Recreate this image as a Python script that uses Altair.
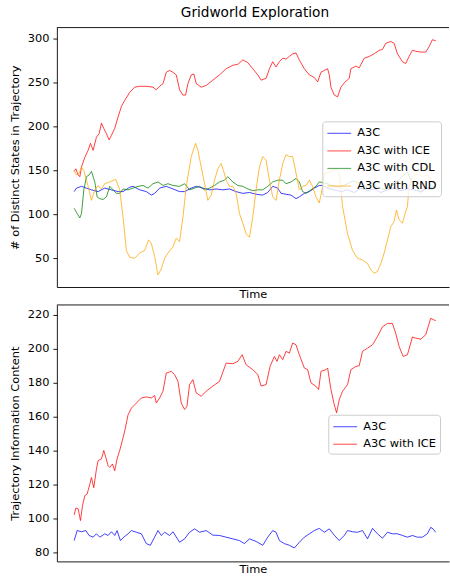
import altair as alt
import pandas as pd

# ---------------- data (top panel) ----------------
a3c_top_t = [0, 7, 22, 37, 52, 72, 92, 112, 132, 147, 167, 177, 197, 217, 232, 242, 257, 277, 297, 317, 332, 352, 367, 387, 407, 427, 447, 467, 487, 507, 527, 547, 567, 582, 597, 612, 622, 637, 652, 667, 677, 692, 707, 722, 737, 747, 762, 782, 802, 822, 842, 862, 882, 902, 922, 942, 962, 982, 1002, 1022, 1042, 1062, 1087]
a3c_top_v = [126, 130, 132, 130, 128, 126, 130, 128, 126, 126, 131, 132, 128, 126, 122, 124, 130, 132, 129, 126, 126, 130, 132, 130, 128, 129, 128, 129, 126, 124, 125, 123, 122, 125, 132, 130, 124, 123, 122, 118, 120, 124, 126, 130, 133, 133, 130, 128, 126, 128, 125, 130, 127, 129, 125, 128, 130, 127, 129, 128, 126, 130, 132]

ice_top_t = [0, 5, 12, 17, 22, 32, 42, 49, 57, 67, 75, 82, 89, 97, 105, 112, 122, 132, 142, 152, 167, 182, 197, 217, 237, 247, 257, 267, 277, 287, 297, 307, 317, 327, 335, 342, 352, 360, 367, 382, 397, 417, 437, 457, 477, 492, 507, 522, 537, 552, 562, 577, 587, 597, 607, 617, 627, 637, 647, 657, 667, 677, 692, 707, 722, 732, 742, 752, 762, 767, 772, 782, 792, 802, 812, 827, 832, 847, 857, 872, 887, 902, 917, 927, 937, 952, 962, 972, 987, 997, 1007, 1017, 1027, 1042, 1057, 1067, 1077, 1087]
ice_top_v = [149, 152, 145, 143, 154, 165, 173, 181, 173, 188, 192, 204, 198, 192, 185, 190, 198, 211, 223, 230, 239, 245, 246, 246, 245, 242, 246, 249, 262, 264, 262, 259, 242, 236, 236, 249, 259, 260, 249, 245, 247, 253, 259, 266, 270, 271, 276, 273, 266, 259, 253, 255, 266, 274, 268, 274, 278, 277, 280, 283, 284, 276, 266, 259, 256, 251, 262, 264, 266, 259, 245, 236, 234, 245, 250, 255, 266, 269, 267, 278, 280, 283, 287, 288, 295, 297, 295, 283, 274, 272, 280, 287, 286, 285, 285, 291, 299, 298]

cdl_top_t = [0, 9, 17, 22, 29, 37, 45, 52, 62, 69, 77, 87, 97, 107, 117, 127, 137, 147, 162, 177, 192, 207, 222, 237, 252, 267, 282, 297, 317, 332, 347, 362, 377, 392, 407, 422, 437, 452, 462, 477, 492, 507, 522, 537, 552, 567, 582, 597, 612, 627, 637, 652, 667, 677, 687, 697, 712, 727, 737, 762, 777, 797, 817, 837, 857, 877, 897, 917, 937, 957, 977, 992, 1002, 1012, 1027, 1042, 1057, 1072, 1087]
cdl_top_v = [107, 101, 96, 101, 128, 143, 145, 149, 137, 120, 118, 117, 120, 132, 128, 124, 124, 129, 128, 130, 132, 133, 130, 135, 137, 133, 135, 133, 132, 135, 128, 130, 132, 128, 130, 133, 137, 139, 143, 137, 133, 132, 129, 127, 128, 128, 132, 137, 139, 139, 135, 137, 141, 137, 126, 124, 128, 132, 137, 135, 133, 131, 134, 138, 136, 132, 135, 130, 128, 133, 140, 145, 148, 140, 132, 125, 130, 128, 130]

rnd_top_t = [0, 7, 15, 22, 29, 42, 52, 62, 72, 82, 92, 107, 125, 137, 147, 157, 167, 182, 197, 212, 224, 232, 242, 252, 262, 272, 282, 297, 307, 317, 327, 337, 352, 365, 372, 382, 392, 402, 412, 422, 432, 442, 449, 457, 467, 477, 487, 497, 507, 517, 527, 537, 547, 557, 567, 577, 587, 597, 607, 617, 627, 637, 647, 657, 667, 677, 687, 697, 707, 717, 727, 737, 747, 752, 762, 777, 787, 797, 807, 822, 837, 852, 867, 882, 892, 902, 912, 922, 932, 942, 952, 962, 969, 977, 987, 995, 1002, 1007, 1017, 1032, 1047, 1062, 1077, 1087]
rnd_top_v = [150, 145, 147, 154, 150, 132, 116, 128, 133, 129, 135, 137, 140, 128, 97, 59, 51, 50, 56, 59, 71, 67, 52, 31, 38, 50, 56, 63, 73, 69, 97, 132, 166, 181, 173, 154, 135, 116, 122, 139, 152, 158, 150, 139, 132, 132, 124, 101, 90, 78, 74, 97, 128, 154, 166, 162, 139, 120, 116, 139, 158, 168, 166, 166, 147, 128, 132, 133, 139, 132, 120, 113, 132, 147, 147, 150, 152, 147, 109, 78, 59, 50, 48, 44, 37, 33, 35, 44, 56, 71, 86, 92, 105, 94, 90, 101, 109, 132, 143, 147, 143, 145, 139, 137]

# ---------------- data (bottom panel) ----------------
a3c_bot_t = [0, 9, 22, 35, 45, 57, 67, 77, 92, 102, 112, 122, 129, 139, 149, 162, 172, 187, 202, 217, 229, 239, 252, 262, 272, 287, 297, 317, 332, 347, 362, 377, 397, 417, 437, 457, 477, 497, 512, 527, 547, 567, 582, 597, 607, 617, 632, 647, 662, 677, 692, 707, 722, 737, 752, 767, 782, 797, 812, 822, 837, 852, 867, 882, 897, 912, 927, 942, 957, 972, 987, 1002, 1017, 1032, 1047, 1062, 1072, 1079, 1087]
a3c_bot_v = [86.8, 92.7, 92, 92.7, 89.8, 88.8, 90.8, 88.8, 90.8, 89.8, 92, 89.8, 92.7, 86.8, 88.8, 90.8, 92.7, 91.7, 90.8, 85, 84, 87.8, 92.7, 89.8, 91.7, 89.8, 92, 85.8, 87.8, 91.7, 93.7, 91.7, 92.7, 90, 89.8, 88.8, 87.8, 86.8, 85, 87.8, 86.3, 84, 88.8, 92.7, 91.7, 86.8, 85, 84, 82.4, 85.8, 88.8, 90.8, 92.7, 94, 91.7, 93.7, 90, 86.8, 89.8, 92.7, 92, 91.7, 92.7, 87.8, 94, 90.8, 88.2, 91.7, 90.8, 90.8, 89.8, 88.8, 89.8, 88.8, 88.8, 90.8, 94.6, 93.7, 91.7]

ice_bot_t = [0, 5, 12, 19, 25, 32, 39, 47, 52, 59, 67, 72, 82, 89, 95, 102, 107, 115, 122, 129, 137, 145, 152, 162, 172, 187, 202, 217, 232, 242, 247, 257, 267, 277, 292, 302, 312, 322, 332, 339, 347, 357, 367, 382, 397, 417, 437, 457, 477, 492, 505, 517, 537, 552, 562, 577, 589, 602, 610, 617, 627, 637, 647, 657, 667, 677, 692, 702, 712, 727, 735, 742, 757, 762, 772, 782, 789, 797, 807, 822, 832, 847, 857, 867, 882, 897, 912, 927, 942, 957, 967, 977, 989, 1002, 1017, 1027, 1042, 1057, 1072, 1082, 1087]
ice_bot_v = [102, 106, 105.5, 98.6, 107.4, 113.3, 114.3, 120, 124, 118, 129, 134, 135, 140, 136, 131, 130, 132, 128, 135, 140, 146, 151.5, 161, 165, 168, 171, 171.6, 171, 172.4, 168, 171, 175, 185.7, 186.7, 184.8, 180.8, 168, 164.2, 166, 178.9, 181.8, 174, 172, 175, 178, 180.8, 191.6, 191.2, 192.6, 196.5, 190.6, 187.7, 184.8, 178, 178.9, 189.6, 195.5, 192.6, 196.5, 193.6, 198.5, 197.5, 203.4, 202.4, 196.5, 188.7, 187.7, 179.9, 177.9, 176, 186.7, 187.7, 188.7, 176, 167, 162.2, 170, 175, 178.9, 187.7, 189.6, 190, 198.5, 200.4, 202.4, 207.3, 213, 215, 215, 209, 201.4, 195.5, 196.5, 207, 206.3, 205.7, 208.3, 218, 217, 216.7]

names_top = ["A3C", "A3C with ICE", "A3C with CDL", "A3C with RND"]
colors_top = ["blue", "red", "green", "orange"]
names_bot = ["A3C", "A3C with ICE"]
colors_bot = ["blue", "red"]

y_ticks_top = [50, 100, 150, 200, 250, 300]
y_ticks_bot = [80, 100, 120, 140, 160, 180, 200, 220]


def long_df(pairs):
    frames = []
    for i, (name, t, v) in enumerate(pairs):
        frames.append(pd.DataFrame({"t": t, "v": v, "series": name, "k": i}))
    return pd.concat(frames, ignore_index=True)


top_df = long_df([
    ("A3C", a3c_top_t, a3c_top_v),
    ("A3C with ICE", ice_top_t, ice_top_v),
    ("A3C with CDL", cdl_top_t, cdl_top_v),
    ("A3C with RND", rnd_top_t, rnd_top_v),
])
bot_df = long_df([
    ("A3C", a3c_bot_t, a3c_bot_v),
    ("A3C with ICE", ice_bot_t, ice_bot_v),
])

W = 393
FONT = "DejaVu Sans"
X_DOMAIN = [-52, 1127]


def legend(x, y):
    return alt.Legend(
        orient="none", legendX=x, legendY=y, title=None,
        symbolType="M-1.7,0H1.7", symbolSize=196, symbolStrokeWidth=1.2,
        symbolOpacity=0.6, labelFont=FONT, labelFontSize=11.4, labelColor="black",
        fillColor="rgba(255,255,255,0.8)", strokeColor="#cccccc", cornerRadius=3,
        padding=4, rowPadding=3.6, labelOffset=10, symbolOffset=5,
    )


def panel(df, names, colors, ytitle, ydomain, yticks, H, lx, ly, title=None):
    x = alt.X("t:Q", scale=alt.Scale(domain=X_DOMAIN, nice=False, zero=False),
              axis=alt.Axis(labels=False, ticks=False, grid=False, title="Time",
                            titlePadding=2, domain=True))
    y = alt.Y("v:Q", scale=alt.Scale(domain=ydomain, nice=False, zero=False),
              axis=alt.Axis(values=yticks, grid=False, title=ytitle, minExtent=31,
                            maxExtent=31, titlePadding=5, labelPadding=4, tickSize=4))
    lines = alt.Chart(df).mark_line(strokeWidth=1, opacity=0.75).encode(
        x=x, y=y,
        color=alt.Color("series:N", scale=alt.Scale(domain=names, range=colors),
                        legend=legend(lx, ly)),
        detail="k:N",
    )
    spine = alt.Chart(pd.DataFrame({"a": [0]})).mark_rule(
        color="black", strokeWidth=0.9).encode(
        x=alt.value(0), x2=alt.value(W), y=alt.value(0))
    props = dict(width=W, height=H)
    if title is not None:
        props["title"] = title
    return alt.layer(lines, spine).properties(**props)


top = panel(top_df, names_top, colors_top, "# of Distinct States in Trajectory",
            [17.3, 312.9], y_ticks_top, 260, 266, 94,
            title=alt.TitleParams("Gridworld Exploration", font=FONT, fontSize=13.7,
                                  fontWeight="normal", color="black", offset=7, dx=2))
bot = panel(bot_df, names_bot, colors_bot, "Trajectory Information Content",
            [74.5, 225.9], y_ticks_bot, 257, 272, 110)

chart = alt.vconcat(top, bot, spacing=3).resolve_scale(color="independent").resolve_legend(
    color="independent"
).properties(
    padding={"left": 10, "top": 5, "right": 0, "bottom": 0}
).configure_view(stroke=None).configure_axis(
    domainColor="black", domainWidth=0.9, tickColor="black", tickWidth=0.9,
    labelFont=FONT, labelFontSize=11.4, labelColor="black",
    titleFont=FONT, titleFontSize=11.4, titleFontWeight="normal", titleColor="black",
)

chart.save("out.html", embed_options={"renderer": "svg", "actions": False})
